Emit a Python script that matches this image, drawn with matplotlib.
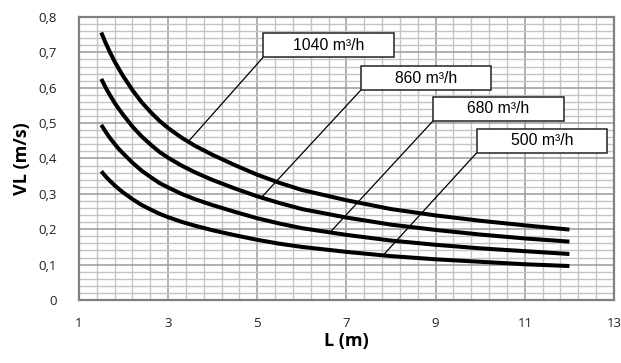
import numpy as np
import matplotlib
matplotlib.use("Agg")
import matplotlib.pyplot as plt
from matplotlib.ticker import MultipleLocator, FixedLocator, FuncFormatter
from matplotlib.patches import Rectangle

# lengths (m) and velocities (m/s)
L = [1.5, 1.6, 1.7, 1.8, 1.9, 2.0, 2.2, 2.4, 2.6, 2.8, 3.0, 3.3, 3.6, 4.0,
     4.5, 5.0, 5.5, 6.0, 7.0, 8.0, 9.0, 10.0, 11.0, 12.0]
vl_1040 = [0.756, 0.726, 0.699, 0.674, 0.652, 0.631, 0.593, 0.560, 0.532, 0.507, 0.486, 0.459,
           0.436, 0.410, 0.381, 0.354, 0.331, 0.311, 0.282, 0.257, 0.239, 0.224, 0.211, 0.199]
vl_860 = [0.625, 0.600, 0.578, 0.557, 0.539, 0.522, 0.490, 0.463, 0.440, 0.419, 0.402, 0.380,
          0.361, 0.339, 0.315, 0.293, 0.274, 0.257, 0.233, 0.213, 0.198, 0.185, 0.174, 0.165]
vl_680 = [0.495, 0.475, 0.457, 0.441, 0.426, 0.413, 0.388, 0.366, 0.348, 0.331, 0.318, 0.300,
          0.285, 0.268, 0.249, 0.231, 0.216, 0.203, 0.184, 0.168, 0.156, 0.146, 0.138, 0.130]
vl_500 = [0.364, 0.349, 0.336, 0.324, 0.313, 0.303, 0.285, 0.269, 0.256, 0.244, 0.234, 0.221,
          0.210, 0.197, 0.183, 0.170, 0.159, 0.150, 0.136, 0.124, 0.115, 0.108, 0.101, 0.096]

series = [vl_1040, vl_860, vl_680, vl_500]
labels = ["1040 m³/h", "860 m³/h", "680 m³/h", "500 m³/h"]
x_ticks = [1, 3, 5, 7, 9, 11, 13]

# label boxes: (x0, y0) lower-left, and where the leader line touches the curve
box_pos = [(5.13, 0.686), (7.32, 0.593), (8.94, 0.506), (9.92, 0.416)]
leader_L = [3.45, 5.09, 6.63, 7.82]
box_w, box_h = 2.93, 0.068

fig = plt.figure(figsize=(6.21, 3.63), dpi=100)
ax = fig.add_axes([0.1272, 0.1736, 0.8615, 0.7796])

ax.set_xlim(1, 13)
ax.set_ylim(0, 0.8)
ax.xaxis.set_major_locator(FixedLocator(x_ticks))
ax.xaxis.set_minor_locator(FixedLocator(np.arange(1, 13.01, 0.4)))
ax.yaxis.set_major_locator(MultipleLocator(0.1))
ax.yaxis.set_minor_locator(MultipleLocator(0.02))
ax.grid(which="minor", color="#c4c4c4", lw=1.0)
ax.grid(which="major", color="#9a9a9a", lw=1.1)
ax.set_axisbelow(True)
ax.tick_params(which="both", length=0)
ax.tick_params(axis="x", pad=12)
ax.tick_params(axis="y", pad=16)
for s in ax.spines.values():
    s.set_color("#808080")
    s.set_linewidth(1.6)

fmt = FuncFormatter(lambda v, p: ("%g" % round(v, 2)).replace(".", ","))
ax.yaxis.set_major_formatter(fmt)
for t in ax.get_xticklabels() + ax.get_yticklabels():
    t.set_fontfamily("Open Sans")
    t.set_fontsize(9.5)
    t.set_color("#222222")

for vals in series:
    ax.plot(L, vals, color="black", lw=2.9, solid_capstyle="butt",
            solid_joinstyle="round", zorder=3)

for vals, lab, (bx, by), lx in zip(series, labels, box_pos, leader_L):
    ly = np.interp(lx, L, vals)
    ax.plot([bx, lx], [by, ly], color="black", lw=0.9, zorder=4)
    ax.add_patch(Rectangle((bx, by), box_w, box_h, facecolor="white",
                           edgecolor="#222222", lw=1.1, zorder=5))
    ax.text(bx + box_w / 2, by + box_h / 2, lab, ha="center", va="center",
            fontsize=11.3, family="Liberation Sans", zorder=6)

ax.set_xlabel("L (m)", fontsize=13, fontweight="bold", family="Open Sans", labelpad=2)
ax.set_ylabel("VL (m/s)", fontsize=13, fontweight="bold", family="Open Sans", labelpad=5)

fig.savefig("out.png", dpi=100)
